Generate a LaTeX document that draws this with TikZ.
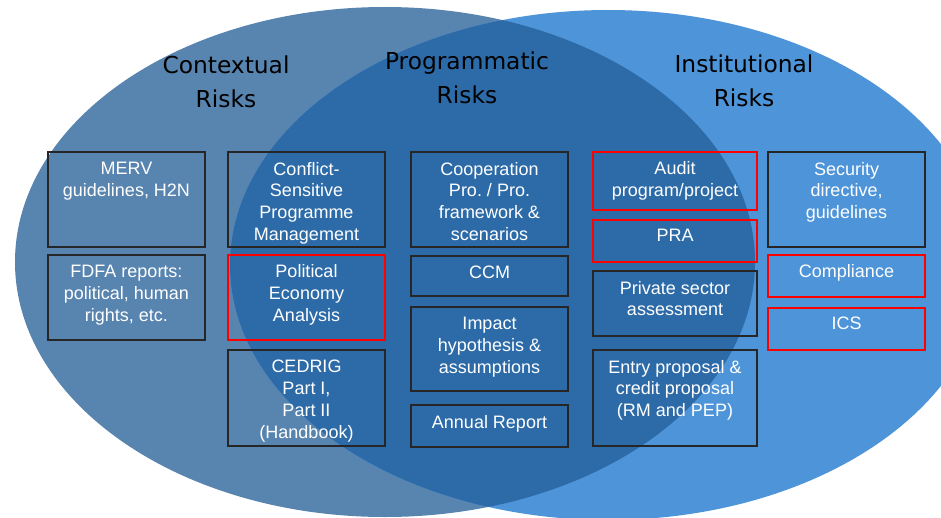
\documentclass[tikz,border=0pt]{standalone}
\usepackage{fontspec}
\setmainfont{Liberation Sans}
\newfontfamily\headfont{DejaVu Sans}
\usetikzlibrary{fit}
\definecolor{ctxblue}{HTML}{5884B0}
\definecolor{prgblue}{HTML}{2D6BA8}
\definecolor{insblue}{HTML}{4E94D9}
\definecolor{flagred}{HTML}{FF0000}
\frenchspacing

\begin{document}
\begin{tikzpicture}
  [x=0.75pt,y=-0.75pt,
   riskbox/.style={draw=black!85,line width=1.1pt,inner sep=0pt},
   flagbox/.style={draw=flagred,line width=2.2pt,inner sep=0pt},
   boxtext/.style={text=white,align=center,inner sep=0pt,anchor=north,font=\fontsize{13.5}{16.4}\selectfont},
   heading/.style={align=center,inner sep=0pt,anchor=north,font=\headfont\fontsize{17.5}{25}\selectfont}]
  \useasboundingbox (0,0) rectangle (941,517);
  \clip (0,0) rectangle (941,517);

  % the two circles and their overlap
  \fill[ctxblue] (385,262) ellipse (370 and 255);
  \fill[insblue] (608,265) ellipse (378 and 255);
  \begin{scope}
    \clip (385,262) ellipse (370 and 255);
    \fill[prgblue] (608,265) ellipse (378 and 255);
  \end{scope}

  \node[heading] (ctx) at (226,56) {Contextual\\Risks};
  \node[heading] (prg) at (467,52) {Programmatic\\Risks};
  \node[heading] (ins) at (744,55) {Institutional\\Risks};

  % boxes
  \foreach \name/\xa/\ya/\xb/\yb in {merv/48/152/205/247, fdfa/48/255/205/340,
      csp/228/152/385/247, cedrig/228/350/385/446,
      coop/411/152/568/247, ccm/411/256/568/296, impact/411/307/568/391, annual/411/405/568/447,
      psa/593/271/757/336, entry/593/350/757/446,
      secu/768/152/925/247}
    \node[riskbox, fit={(\xa,\ya) (\xb,\yb)}] (\name) {};
  \foreach \name/\xa/\ya/\xb/\yb in {pea/228/255/385/340,
      audit/593/152/757/210, pra/593/220/757/262,
      compl/768/255/925/297, ics/768/308/925/350}
    \node[flagbox, fit={(\xa,\ya) (\xb,\yb)}] (\name) {};

  \node[boxtext] (merv-t) at ([yshift=-7.9pt]merv.north) {MERV\\guidelines, H2N};
  \node[boxtext] (fdfa-t) at ([yshift=-7.9pt]fdfa.north) {FDFA reports:\\political, human\\rights, etc.};
  \node[boxtext] (csp-t) at ([yshift=-7.9pt]csp.north) {Conflict-\\Sensitive\\Programme\\Management};
  \node[boxtext] (pea-t) at ([yshift=-7.9pt]pea.north) {Political\\Economy\\Analysis};
  \node[boxtext] (cedrig-t) at ([yshift=-7.9pt]cedrig.north) {CEDRIG\\Part I,\\Part II\\(Handbook)};
  \node[boxtext] (coop-t) at ([yshift=-7.9pt]coop.north) {Cooperation\\Pro. / Pro.\\framework \&\\scenarios};
  \node[boxtext] (ccm-t) at ([yshift=-7.9pt]ccm.north) {CCM};
  \node[boxtext] (impact-t) at ([yshift=-7.9pt]impact.north) {Impact\\hypothesis \&\\assumptions};
  \node[boxtext] (annual-t) at ([yshift=-7.9pt]annual.north) {Annual Report};
  \node[boxtext] (audit-t) at ([yshift=-7.9pt]audit.north) {Audit\\program/project};
  \node[boxtext] (pra-t) at ([yshift=-7.9pt]pra.north) {PRA};
  \node[boxtext] (psa-t) at ([yshift=-7.9pt]psa.north) {Private sector\\assessment};
  \node[boxtext] (entry-t) at ([yshift=-7.9pt]entry.north) {Entry proposal \&\\credit proposal\\(RM and PEP)};
  \node[boxtext] (secu-t) at ([yshift=-7.9pt]secu.north) {Security\\directive,\\guidelines};
  \node[boxtext] (compl-t) at ([yshift=-7.9pt]compl.north) {Compliance};
  \node[boxtext] (ics-t) at ([yshift=-7.9pt]ics.north) {ICS};

\end{tikzpicture}
\end{document}
